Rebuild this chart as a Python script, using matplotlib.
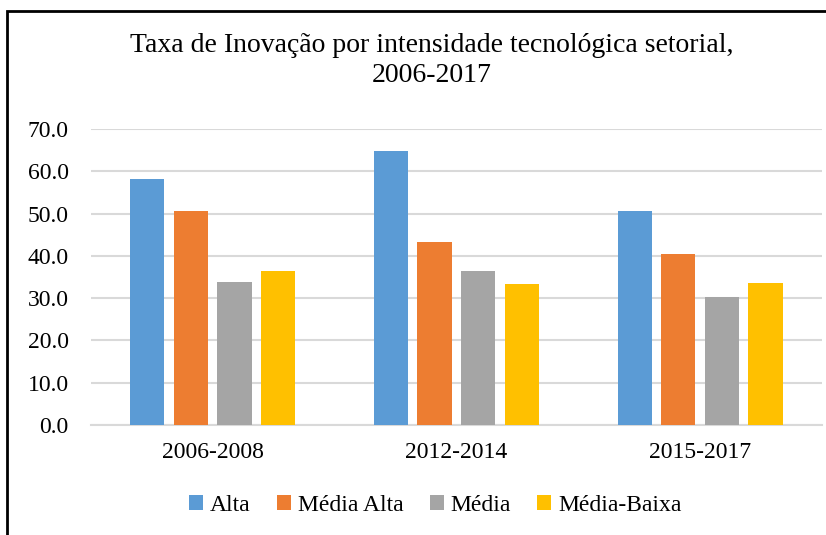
import numpy as np
import matplotlib.pyplot as plt
from matplotlib.patches import Rectangle

# Dados
periodos = ['2006-2008', '2012-2014', '2015-2017']
series = ['Alta', 'Média Alta', 'Média', 'Média-Baixa']
alta = [58.1, 64.8, 50.7]
media_alta = [50.6, 43.2, 40.5]
media = [33.8, 36.4, 30.2]
media_baixa = [36.4, 33.4, 33.5]
cores = ['#5b9bd5', '#ed7d31', '#a5a5a5', '#ffc000']

plt.rcParams['font.family'] = ['Liberation Serif', 'DejaVu Serif']

fig = plt.figure(figsize=(8.26, 5.35), dpi=100)
ax = fig.add_axes([0.110, 0.2056, 0.885, 0.5533])

x = np.arange(len(periodos))
passo = 0.179
largura = 0.14
valores = [alta, media_alta, media, media_baixa]
for i, (nome, v, c) in enumerate(zip(series, valores, cores)):
    ax.bar(x + (i - 1.5) * passo, v, largura, color=c, label=nome, zorder=3)

ax.set_xlim(-0.5, 2.5)
ax.set_ylim(0, 70)
ax.set_yticks(np.arange(0, 71, 10))
ax.set_yticklabels([f'{t:.1f}' for t in np.arange(0, 71, 10)])
ax.set_xticks(x)
ax.set_xticklabels(periodos)
ax.tick_params(axis='both', length=0, labelsize=17)
ax.tick_params(axis='x', pad=12)
ax.tick_params(axis='y', pad=16)
ax.grid(axis='y', color='#d9d9d9', linewidth=1.5, zorder=0)
for s in ['top', 'right', 'left']:
    ax.spines[s].set_visible(False)
ax.spines['bottom'].set_color('#d9d9d9')
ax.spines['bottom'].set_linewidth(1.5)

fig.text(0.523, 0.887, 'Taxa de Inovação por intensidade tecnológica setorial,\n2006-2017',
         ha='center', va='center', fontsize=20, linespacing=1.3)

fig.legend(loc='center', bbox_to_anchor=(0.527, 0.056), ncol=4, frameon=False,
           fontsize=17, handlelength=0.6, handleheight=0.6, handletextpad=0.3,
           columnspacing=1.1)

# moldura
fig.patches.append(Rectangle((7 / 826, -0.1), 1.2, 1 - 11 / 535 + 0.1,
                             transform=fig.transFigure, fill=False,
                             edgecolor='black', linewidth=2))

plt.savefig('out.png')
